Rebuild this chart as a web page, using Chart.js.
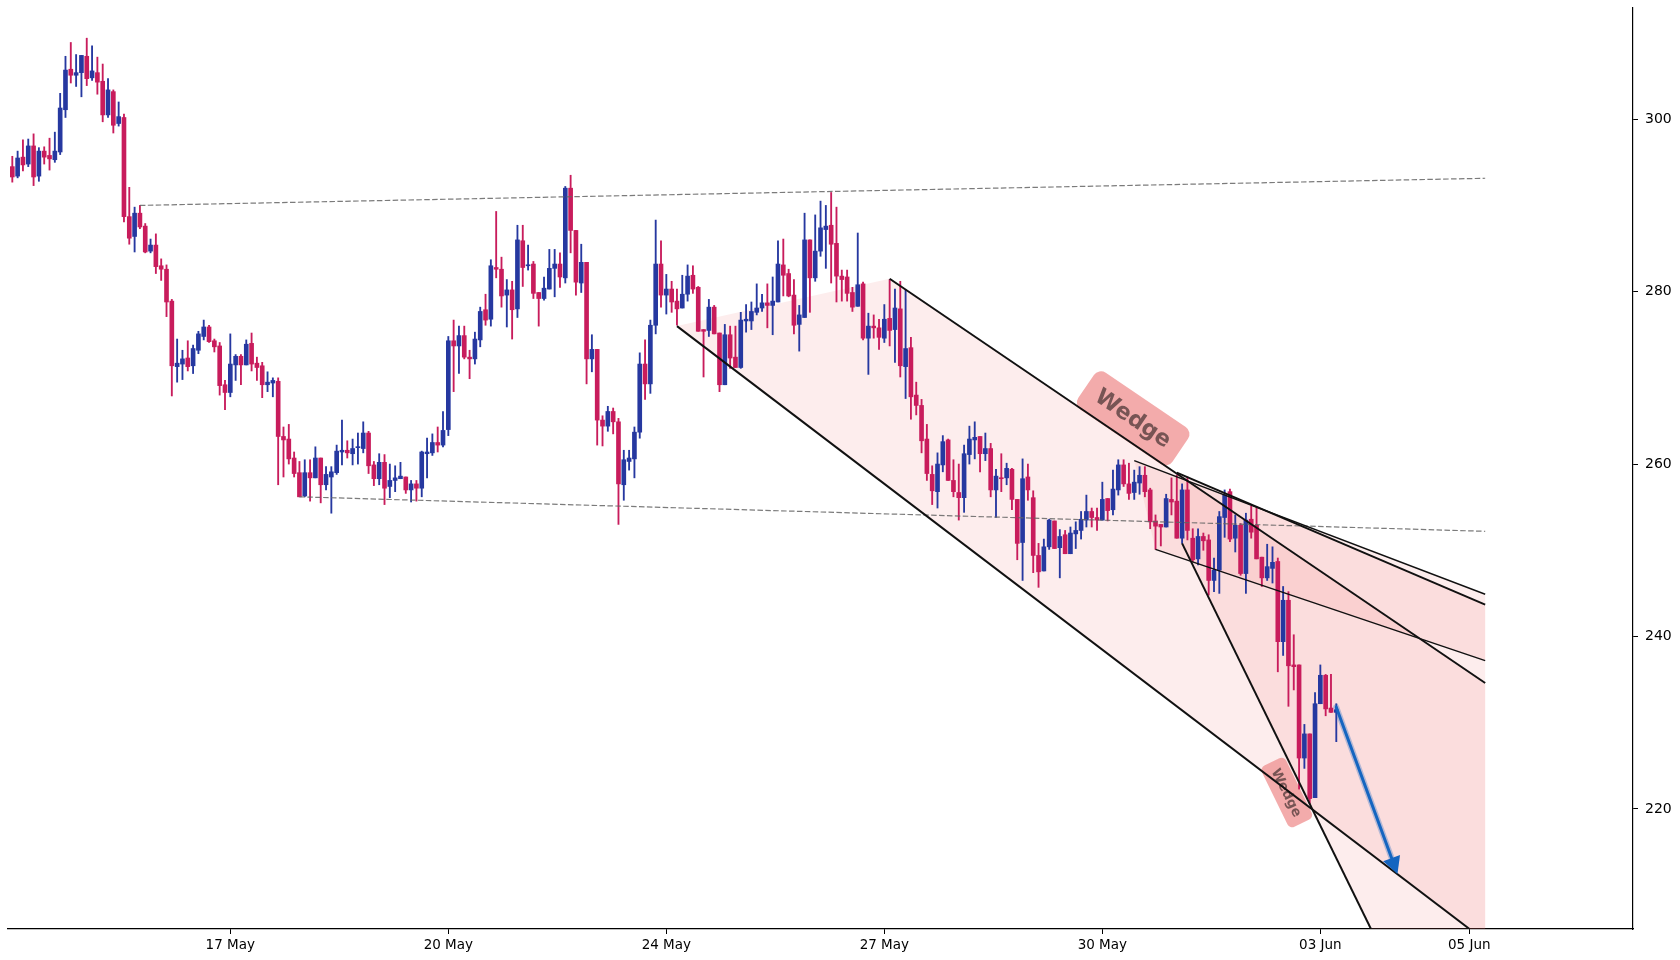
<!DOCTYPE html>
<html><head><meta charset="utf-8">
<script src="https://cdn.jsdelivr.net/npm/chart.js@4.4.1/dist/chart.umd.min.js"></script>
<style>html,body{margin:0;padding:0;background:#fff;}canvas{display:block;}</style>
</head><body>
<canvas id="c" width="1680" height="960"></canvas>
<script>
// ---- candle data (index 0..249) ----
const opens = [
294.5,293.4,295.6,294.8,296.9,293.4,296.3,295.8,295.3,296.2,
301.1,305.8,305.1,305.4,307.3,304.8,305.4,304.4,300.5,303.2,
299.5,300.2,288.7,286.4,289.1,287.6,284.7,285.4,283.0,282.6,
278.9,271.3,271.6,272.3,271.4,273.2,274.8,275.9,274.3,273.7,
269.2,268.3,271.5,272.5,271.5,274.0,271.7,271.4,269.2,269.4,
269.6,263.2,262.9,260.7,259.0,256.3,259.0,258.4,260.7,257.6,
258.5,259.0,261.4,261.6,261.2,261.9,261.8,263.6,259.9,258.3,
260.2,257.4,258.1,258.3,258.5,257.0,257.7,257.2,261.2,261.3,
262.5,262.2,264.0,274.3,273.7,274.9,272.4,272.2,274.4,277.9,
276.8,282.8,282.6,279.6,280.2,278.0,285.9,283.0,283.2,279.9,
279.2,280.3,282.7,283.2,281.6,292.0,287.1,281.0,283.4,272.2,
273.3,265.1,264.4,266.1,264.9,257.6,260.3,260.6,263.7,271.6,
269.3,276.1,283.2,279.6,280.3,278.9,278.1,279.7,281.9,280.5,
275.6,275.5,278.2,275.2,269.2,275.0,272.4,271.2,276.6,276.6,
277.6,278.1,278.7,278.4,278.8,283.1,282.1,279.6,276.2,277.0,
286.0,281.6,284.7,287.2,287.7,285.6,281.8,281.7,279.9,278.3,
280.9,274.6,276.0,275.8,274.6,276.9,275.6,278.0,271.3,273.5,
268.0,266.8,262.9,258.8,256.8,259.9,262.8,258.1,256.7,256.1,
261.1,262.8,263.2,261.2,261.8,257.0,258.4,258.4,259.4,255.9,
250.9,258.5,256.1,249.4,247.6,250.4,253.4,250.3,251.8,249.6,
251.9,252.3,253.5,254.5,253.8,253.5,256.0,254.7,257.0,259.9,
257.7,256.7,257.8,258.7,257.0,253.4,253.0,252.7,255.9,255.7,
251.4,257.0,251.4,249.0,251.6,251.2,246.5,247.7,253.8,256.8,
251.4,252.9,247.3,253.6,252.9,249.2,246.8,247.9,248.7,239.4,
244.2,236.7,236.7,225.9,228.7,221.3,232.2,235.5,231.7,231.2];
const highs = [
295.7,296.3,297.6,297.7,298.3,296.7,296.8,297.8,298.5,303.0,
307.3,308.9,307.5,307.4,309.4,308.5,307.2,306.4,304.7,303.4,
302.0,300.6,292.1,289.8,290.0,287.9,286.1,286.7,283.8,283.1,
279.1,274.5,273.2,274.3,273.8,275.4,276.7,276.1,274.5,274.1,
269.7,275.1,272.7,272.7,274.4,275.2,272.4,271.8,270.7,270.0,
270.0,264.3,264.6,261.4,260.3,260.5,260.5,262.0,260.7,259.7,
259.7,262.2,265.1,262.7,262.9,263.6,264.9,263.8,260.3,261.2,
261.1,260.0,259.8,260.2,258.5,258.1,258.1,261.5,263.0,263.5,
264.3,266.1,274.8,276.7,276.0,276.0,273.2,275.3,278.2,279.7,
283.7,289.3,284.0,281.4,281.2,287.7,287.7,285.4,283.5,279.9,
281.7,284.9,284.9,284.5,292.2,293.5,287.1,285.5,283.4,275.0,
273.3,265.6,266.7,266.5,265.3,261.6,261.6,264.3,272.9,274.4,
276.7,288.3,285.9,282.0,281.2,280.3,281.9,283.1,283.0,280.6,
275.6,279.1,278.4,275.2,276.2,276.0,276.0,277.6,278.5,278.8,
280.9,279.7,280.9,281.7,285.9,286.1,282.6,281.4,278.4,289.1,
286.0,288.9,290.5,290.0,291.5,289.8,282.5,282.5,280.5,286.8,
281.1,277.5,277.3,276.8,278.5,281.4,280.3,281.2,280.2,274.7,
269.5,267.5,264.6,259.8,261.3,263.3,262.9,260.5,260.0,262.2,
264.4,264.9,263.2,263.6,262.4,259.4,261.2,260.1,259.5,255.9,
260.6,260.0,256.9,250.8,251.3,253.6,253.4,252.4,252.3,252.7,
253.3,254.5,256.4,254.9,254.9,257.9,256.0,259.3,260.5,260.5,
260.1,259.3,259.7,259.7,257.2,254.1,253.0,256.5,258.4,258.7,
257.7,258.5,252.5,252.5,252.0,251.8,249.1,254.5,257.0,257.1,
254.1,253.1,254.3,255.1,254.9,249.2,250.7,250.4,249.1,245.8,
245.2,240.2,236.7,229.8,228.7,233.5,236.7,235.6,235.6,232.2];
const lows = [
292.7,293.2,294.0,294.5,292.3,292.8,294.8,294.1,295.0,295.9,
300.2,304.2,303.8,302.6,303.9,304.5,302.9,299.7,300.2,298.4,
299.2,288.1,285.5,284.6,287.3,284.5,284.5,282.1,281.3,277.1,
267.9,269.5,269.8,270.8,270.5,272.8,274.4,274.1,273.0,268.0,
266.3,267.8,269.7,269.2,271.5,270.8,269.7,267.7,268.4,267.8,
257.6,258.5,260.0,258.5,256.2,256.2,255.7,258.4,255.5,257.0,
254.3,258.8,259.9,260.7,259.9,260.0,261.3,258.9,257.5,257.6,
255.3,256.1,256.8,258.3,256.6,255.6,255.7,256.2,258.4,261.0,
261.4,262.0,263.3,268.4,270.5,272.2,269.9,271.6,273.6,276.1,
276.0,281.6,278.2,275.9,274.5,277.0,280.6,282.5,279.2,276.0,
279.0,280.3,279.4,280.5,281.0,284.5,279.6,279.9,269.3,270.7,
262.2,262.1,263.8,263.5,253.0,255.8,259.3,258.4,263.0,267.5,
268.2,275.1,278.2,277.4,277.6,276.1,278.1,278.9,279.8,275.4,
270.1,274.8,275.1,268.4,269.2,271.1,271.2,271.1,275.3,275.6,
277.3,277.7,275.8,275.0,278.8,279.5,279.4,275.1,273.1,277.0,
277.6,281.2,284.1,282.7,281.0,278.8,278.9,278.9,277.7,278.3,
274.4,270.4,274.6,273.3,274.1,273.7,271.8,270.1,267.6,265.2,
265.7,261.3,258.1,255.3,254.9,259.1,258.1,256.2,253.5,254.4,
260.0,260.6,259.1,260.4,256.2,253.8,256.8,257.6,254.7,248.9,
246.5,255.8,247.4,245.7,247.6,250.1,250.2,246.8,249.6,249.6,
250.2,251.3,252.7,252.7,252.3,253.5,253.4,254.1,256.4,257.4,
255.9,255.9,256.5,256.2,252.5,250.1,250.5,252.7,254.1,251.4,
250.8,251.2,248.7,248.3,250.0,244.8,245.2,245.0,251.5,251.0,
249.8,247.1,245.0,251.4,249.0,245.8,246.5,246.2,235.9,237.8,
231.9,233.8,222.3,224.7,220.6,221.3,232.2,230.8,231.2,227.8];
const closes = [
293.3,295.5,294.7,296.9,293.3,296.3,295.6,295.4,296.3,301.3,
305.7,305.1,305.4,307.4,304.7,305.6,304.3,300.5,303.4,299.3,
300.3,288.7,286.2,289.1,287.5,284.6,285.4,282.9,282.6,278.8,
271.4,271.7,272.2,271.3,273.4,275.1,275.9,274.2,273.6,269.1,
268.3,271.6,272.5,271.5,273.9,271.6,271.2,269.2,269.5,269.7,
263.2,262.8,260.6,258.9,256.2,259.0,258.4,260.7,257.6,258.8,
259.1,261.5,261.6,261.3,261.8,262.0,263.6,259.8,258.3,260.2,
257.2,258.1,258.4,258.6,257.0,257.7,257.2,261.4,261.4,262.5,
262.2,263.9,274.3,273.7,274.9,272.4,272.2,274.5,277.7,276.7,
283.0,282.6,279.5,280.2,277.9,286.0,282.8,283.1,279.8,279.2,
280.4,282.7,283.2,281.7,292.0,287.1,281.1,283.4,272.2,273.3,
265.1,264.4,266.1,264.9,257.7,260.5,260.7,263.7,271.6,269.3,
276.1,283.2,279.6,280.3,278.8,278.0,279.7,281.8,280.3,275.4,
275.4,278.2,275.1,269.2,275.0,272.3,271.2,276.7,276.8,277.7,
278.1,278.7,278.4,278.9,283.2,281.9,279.5,276.1,277.3,286.0,
281.6,284.7,287.4,287.6,285.5,281.8,281.4,279.8,278.2,280.8,
274.6,276.0,275.8,274.7,276.8,275.5,278.1,271.4,273.4,267.8,
266.8,262.7,258.9,256.9,260.0,262.6,258.1,256.8,256.1,261.2,
262.9,263.1,261.2,261.8,257.0,258.6,258.3,259.5,255.9,250.8,
258.3,257.0,249.4,247.5,250.4,253.5,250.2,251.6,249.6,252.0,
252.3,253.6,254.5,253.8,253.5,255.9,254.6,257.1,259.9,257.7,
256.6,257.9,258.7,256.8,253.3,252.8,252.7,256.0,255.6,251.4,
257.0,252.3,248.9,251.6,251.1,246.5,247.7,253.9,256.4,251.3,
252.9,247.3,253.5,252.1,249.0,246.8,248.1,248.6,239.4,244.2,
236.6,236.5,225.9,228.7,221.2,232.2,235.5,231.6,231.2,231.5];

// ---- axis ticks ----
const tickIndex  = [41, 82, 123, 164, 205, 246, 274];
const tickLabels = ['17 May','20 May','24 May','27 May','30 May','03 Jun','05 Jun'];
const yTicks = [220, 240, 260, 280, 300];

// ---- annotation geometry (bar index, price) ----
const dashedUpper  = [{x:24, y:290.0}, {x:277, y:293.15}];
const dashedLower  = [{x:54, y:256.2}, {x:277, y:252.2}];
const channelLower = [{x:125, y:276.0}, {x:274, y:206.1}];
const channelUpper = [{x:165, y:281.5}, {x:277, y:234.6}];
const wedgeAUpper  = [{x:211, y:260.4}, {x:277, y:244.9}];
const wedgeALower  = [{x:215, y:250.1}, {x:277, y:237.2}];
const wedgeBUpper  = [{x:219, y:259.0}, {x:277, y:243.7}];
const wedgeBLower  = [{x:220, y:250.8}, {x:255.5, y:206.1}];
const areaChannel  = [{x:125,y:276.0},{x:165,y:281.5},{x:277,y:234.6},{x:277,y:204.7}];
const areaWedgeA   = [{x:211,y:260.4},{x:277,y:244.9},{x:277,y:237.2},{x:215,y:250.1}];
const areaWedgeB   = [{x:219,y:259.0},{x:277,y:243.7},{x:277,y:200.0},{x:260.4,y:200.0},{x:220,y:250.8}];
const labelTexts   = ['Wedge', 'Wedge'];
const labelAnchors = [{x:210.8, y:265.3}, {x:239.7, y:221.9}];
const arrowPts     = [{x:249, y:231.8}, {x:260.5, y:212.45}];

const UP = '#2638a0', DOWN = '#c81c5c';
const idx = closes.map((_, i) => i);
const candleColor = idx.map(i => closes[i] >= opens[i] ? UP : DOWN);

function lineDs(pts, width, dash, color, order){
  return {type:'line', data:pts, borderColor:color, borderWidth:width, borderDash:dash||[],
    pointRadius:0, fill:false, order:order, tension:0};
}

const annot = {
  id:'annot',
  beforeDatasetsDraw(chart){
    const {ctx, chartArea:a, scales:{x, y}} = chart;
    const P = p => [x.getPixelForValue(p.x), y.getPixelForValue(p.y)];
    ctx.save();
    ctx.beginPath(); ctx.rect(a.left, a.top, a.right-a.left, a.bottom-a.top); ctx.clip();
    [areaChannel, areaWedgeA, areaWedgeB].forEach(poly => {
      ctx.beginPath();
      poly.forEach((p,i) => { const [px,py] = P(p); i ? ctx.lineTo(px,py) : ctx.moveTo(px,py); });
      ctx.closePath();
      ctx.fillStyle = 'rgba(235,110,110,0.12)';
      ctx.fill();
    });
    const refs = [channelUpper, wedgeBLower];
    const sizes = [22.5, 13.5];
    labelAnchors.forEach((an, k) => {
      const [x1,y1] = P(refs[k][0]), [x2,y2] = P(refs[k][1]);
      const ang = Math.atan2(y2-y1, x2-x1);
      const [cx,cy] = P(an);
      const fs = sizes[k];
      ctx.save();
      ctx.translate(cx, cy); ctx.rotate(ang);
      ctx.font = 'bold ' + fs + 'px "DejaVu Sans"';
      const w = ctx.measureText(labelTexts[k]).width;
      const padX = fs*0.6, padY = fs*0.42;
      const bw = w + 2*padX, bh = fs*1.15 + 2*padY;
      ctx.fillStyle = 'rgba(240,150,150,0.8)';
      ctx.beginPath();
      if (ctx.roundRect) ctx.roundRect(-bw/2, -bh/2, bw, bh, fs*0.38); else ctx.rect(-bw/2,-bh/2,bw,bh);
      ctx.fill();
      ctx.fillStyle = 'rgba(85,60,60,0.78)';
      ctx.textAlign = 'center'; ctx.textBaseline = 'middle';
      ctx.fillText(labelTexts[k], 0, 1);
      ctx.restore();
    });
    ctx.restore();
  },
  afterDatasetsDraw(chart){
    const {ctx, scales:{x, y}} = chart;
    const x1 = x.getPixelForValue(arrowPts[0].x), y1 = y.getPixelForValue(arrowPts[0].y);
    const x2 = x.getPixelForValue(arrowPts[1].x), y2 = y.getPixelForValue(arrowPts[1].y);
    const ang = Math.atan2(y2-y1, x2-x1);
    const hl = 17, hw = 9;
    const bx = x2 - hl*Math.cos(ang), by = y2 - hl*Math.sin(ang);
    ctx.save();
    ctx.lineCap = 'round';
    ctx.strokeStyle = 'rgba(21,101,192,0.3)'; ctx.lineWidth = 6;
    ctx.beginPath(); ctx.moveTo(x1,y1); ctx.lineTo(bx,by); ctx.stroke();
    ctx.strokeStyle = '#1565c0'; ctx.lineWidth = 3;
    ctx.beginPath(); ctx.moveTo(x1,y1); ctx.lineTo(bx,by); ctx.stroke();
    ctx.fillStyle = '#1565c0';
    ctx.beginPath();
    ctx.moveTo(x2, y2);
    ctx.lineTo(bx + hw*Math.sin(ang), by - hw*Math.cos(ang));
    ctx.lineTo(bx - hw*Math.sin(ang), by + hw*Math.cos(ang));
    ctx.closePath(); ctx.fill();
    ctx.restore();
  }
};

new Chart(document.getElementById('c'), {
  type:'bar',
  data:{
    datasets:[
      lineDs(channelLower, 2, null, '#111', 0),
      lineDs(channelUpper, 2, null, '#111', 0),
      lineDs(wedgeAUpper, 1.5, null, '#111', 0),
      lineDs(wedgeALower, 1.5, null, '#111', 0),
      lineDs(wedgeBUpper, 2, null, '#111', 0),
      lineDs(wedgeBLower, 2, null, '#111', 0),
      lineDs(dashedUpper, 1.2, [5.5,2.4], 'rgba(100,100,100,0.85)', 0),
      lineDs(dashedLower, 1.2, [5.5,2.4], 'rgba(100,100,100,0.85)', 0),
      {type:'bar', data: idx.map(i => ({x:i, y:[opens[i], closes[i]]})),
        backgroundColor: candleColor, barThickness:4, minBarLength:1, grouped:false, order:1},
      {type:'bar', data: idx.map(i => ({x:i, y:[lows[i], highs[i]]})),
        backgroundColor: candleColor, barThickness:1.2, grouped:false, order:2}
    ]
  },
  options:{
    responsive:false, animation:false, devicePixelRatio:1,
    layout:{padding:{top:8, left:8, right:0, bottom:0}},
    plugins:{legend:{display:false}, tooltip:{enabled:false}},
    scales:{
      x:{type:'linear', min:-0.81, max:304.8, offset:false,
        afterBuildTicks: s => { s.ticks = tickIndex.map(v => ({value:v})); },
        afterFit: s => { s.height = 31; s.paddingLeft = 0; s.paddingRight = 0; },
        ticks:{autoSkip:false, maxRotation:0, padding:3, color:'#000',
          font:{family:'"DejaVu Sans"', size:13.5},
          callback: v => tickLabels[tickIndex.indexOf(v)]},
        grid:{offset:false, drawOnChartArea:false, drawTicks:true, tickLength:5, tickColor:'#000', lineWidth:1},
        border:{display:true, color:'#000', width:1.2}},
      y:{type:'linear', position:'right', min:206.07, max:312.9,
        afterBuildTicks: s => { s.ticks = yTicks.map(v => ({value:v})); },
        afterFit: s => { s.width = 47; s.paddingTop = 0; s.paddingBottom = 0; },
        ticks:{padding:7, color:'#000', font:{family:'"DejaVu Sans"', size:14},
          callback: v => String(v)},
        grid:{offset:false, drawOnChartArea:false, drawTicks:true, tickLength:5, tickColor:'#000', lineWidth:1},
        border:{display:true, color:'#000', width:1.2}}
    }
  },
  plugins:[annot]
});
</script>
</body></html>
